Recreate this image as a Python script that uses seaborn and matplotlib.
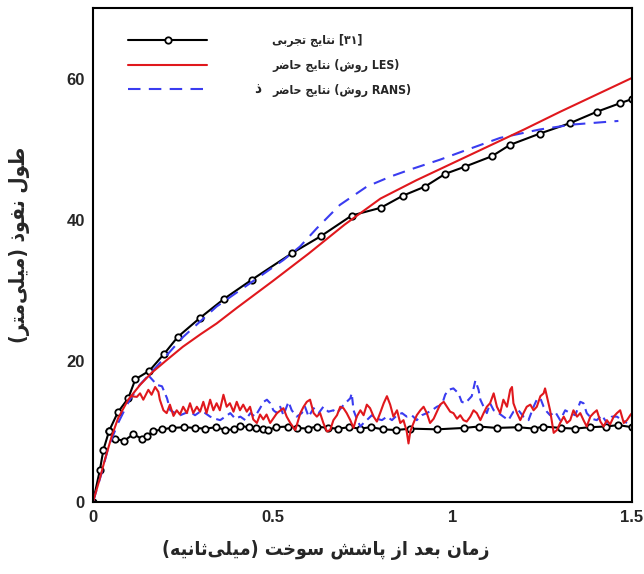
import re
import numpy as np
import pandas as pd
import matplotlib
matplotlib.use("Agg")
import matplotlib.pyplot as plt
from matplotlib.ticker import MultipleLocator, FixedLocator
from matplotlib.font_manager import FontProperties
import seaborn as sns

# ---------------- data ----------------
# Experimental (black, circles): vapour penetration (upper) and liquid length (lower)
exp_upper_t = [0.0, 0.019, 0.029, 0.045, 0.069, 0.098, 0.118, 0.157, 0.198, 0.236, 0.298,
               0.365, 0.442, 0.555, 0.635, 0.720, 0.801, 0.862, 0.924, 0.980, 1.034,
               1.110, 1.160, 1.243, 1.328, 1.402, 1.466, 1.500]
exp_upper_L = [0.0, 4.5, 7.4, 10.1, 12.7, 14.7, 17.4, 18.6, 21.0, 23.4, 26.1,
               28.8, 31.5, 35.3, 37.7, 40.6, 41.7, 43.4, 44.7, 46.5, 47.5,
               49.0, 50.6, 52.2, 53.7, 55.3, 56.5, 57.1]
exp_lower_t = [0.045, 0.061, 0.087, 0.112, 0.135, 0.149, 0.168, 0.191, 0.219, 0.254, 0.284,
               0.313, 0.343, 0.368, 0.393, 0.408, 0.433, 0.453, 0.473, 0.488, 0.508,
               0.543, 0.568, 0.598, 0.623, 0.653, 0.683, 0.713, 0.743, 0.773, 0.808,
               0.843, 0.883, 0.958, 1.033, 1.073, 1.123, 1.183, 1.228, 1.252, 1.302,
               1.342, 1.382, 1.427, 1.462, 1.500]
exp_lower_L = [10.1, 8.9, 8.7, 9.6, 9.0, 9.4, 10.0, 10.3, 10.5, 10.6, 10.5,
               10.4, 10.6, 10.2, 10.3, 10.8, 10.6, 10.5, 10.4, 10.2, 10.6,
               10.7, 10.5, 10.4, 10.7, 10.5, 10.4, 10.6, 10.4, 10.6, 10.3,
               10.2, 10.4, 10.3, 10.5, 10.7, 10.5, 10.6, 10.4, 10.7, 10.5,
               10.4, 10.6, 10.7, 10.9, 10.6]

# LES (red)
les_upper_t = [0.0, 0.02, 0.033, 0.052, 0.070, 0.098, 0.131, 0.163, 0.2, 0.25, 0.3,
               0.344, 0.4, 0.5, 0.6, 0.7, 0.8, 0.9, 1.0, 1.1, 1.2, 1.3, 1.4, 1.5]
les_upper_L = [0.0, 3.5, 6.0, 9.3, 11.9, 14.5, 16.6, 18.3, 19.9, 22.0, 23.8,
               25.3, 27.5, 31.3, 35.2, 39.3, 43.0, 45.6, 48.0, 50.4, 52.8, 55.3, 57.7, 60.1]
les_lower_t = [0.105, 0.122, 0.131, 0.140, 0.154, 0.163, 0.173, 0.182, 0.186, 0.196, 0.205,
               0.214, 0.224, 0.233, 0.242, 0.251, 0.261, 0.270, 0.279, 0.289, 0.298,
               0.307, 0.316, 0.326, 0.335, 0.344, 0.353, 0.363, 0.372, 0.381, 0.391,
               0.400, 0.409, 0.418, 0.428, 0.437, 0.446, 0.456, 0.465, 0.474, 0.483,
               0.493, 0.512, 0.530, 0.539, 0.549, 0.563, 0.577, 0.586, 0.595, 0.604,
               0.614, 0.623, 0.632, 0.641, 0.651, 0.660, 0.669, 0.679, 0.688, 0.697,
               0.706, 0.716, 0.725, 0.734, 0.744, 0.753, 0.762, 0.771, 0.781, 0.790,
               0.799, 0.809, 0.818, 0.827, 0.836, 0.846, 0.855, 0.864, 0.873, 0.878,
               0.883, 0.892, 0.901, 0.911, 0.920, 0.929, 0.938, 0.948, 0.957, 0.966,
               0.976, 0.985, 0.994, 1.003, 1.013, 1.022, 1.031, 1.040, 1.050, 1.059,
               1.068, 1.078, 1.087, 1.096, 1.105, 1.115, 1.124, 1.133, 1.142, 1.152,
               1.161, 1.166, 1.170, 1.180, 1.189, 1.198, 1.207, 1.217, 1.226, 1.235,
               1.245, 1.254, 1.258, 1.263, 1.272, 1.282, 1.291, 1.300, 1.310, 1.319,
               1.328, 1.337, 1.347, 1.356, 1.365, 1.374, 1.384, 1.393, 1.402, 1.412,
               1.421, 1.430, 1.439, 1.449, 1.458, 1.467, 1.477, 1.486, 1.495, 1.500]
les_lower_L = [15.0, 14.9, 15.4, 14.5, 15.9, 15.2, 16.3, 15.6, 14.5, 13.0, 12.6,
               13.8, 12.2, 13.0, 12.4, 13.5, 12.6, 14.0, 12.6, 13.5, 12.8,
               14.2, 12.6, 14.5, 13.0, 14.0, 13.0, 15.2, 13.5, 14.0, 12.8,
               14.2, 13.0, 13.8, 12.8, 13.5, 11.7, 11.2, 12.4, 11.7, 12.4,
               11.2, 12.6, 13.3, 12.1, 11.2, 10.2, 12.6, 13.5, 14.2, 14.5,
               12.6, 12.1, 12.6, 11.2, 10.0, 10.2, 11.6, 12.3, 13.5, 13.3,
               12.6, 11.6, 10.5, 12.1, 13.0, 12.3, 13.8, 13.3, 12.1, 11.4,
               12.6, 14.0, 15.0, 13.8, 12.1, 13.0, 11.2, 11.6, 10.0, 8.3,
               10.0, 11.2, 12.3, 13.0, 13.5, 12.6, 11.2, 11.8, 12.8, 13.8,
               14.2, 13.5, 12.8, 12.6, 11.8, 12.3, 11.6, 11.4, 12.1, 13.0,
               12.6, 11.6, 12.6, 13.5, 14.0, 15.4, 13.5, 12.6, 14.5, 13.5,
               15.9, 16.3, 14.0, 12.6, 11.6, 12.6, 13.5, 13.8, 13.0, 13.5,
               15.0, 15.4, 16.1, 15.0, 13.0, 9.8, 10.2, 11.2, 12.1, 11.2,
               11.6, 13.0, 12.1, 12.6, 11.6, 10.7, 12.1, 12.6, 13.0, 11.4,
               10.7, 11.6, 11.0, 12.1, 12.6, 13.0, 11.2, 11.6, 12.3, 12.6]

# RANS (blue dashed)
rans_upper_t = [0.0, 0.024, 0.043, 0.070, 0.10, 0.13, 0.177, 0.251, 0.344, 0.437, 0.530,
                0.576, 0.623, 0.687, 0.762, 0.827, 0.882, 0.965, 1.040, 1.133, 1.244,
                1.337, 1.462]
rans_upper_L = [0.0, 4.1, 7.8, 11.2, 14.3, 16.6, 19.2, 23.4, 27.7, 31.0, 34.3,
                36.2, 38.8, 42.1, 44.7, 46.1, 47.1, 48.5, 49.9, 51.6, 52.8,
                53.5, 54.0]
rans_lower_t = [0.155, 0.178, 0.192, 0.206, 0.215, 0.229, 0.243, 0.257, 0.270, 0.284, 0.298,
                0.312, 0.326, 0.340, 0.354, 0.368, 0.382, 0.396, 0.410, 0.424, 0.438,
                0.451, 0.465, 0.475, 0.484, 0.493, 0.502, 0.512, 0.521, 0.530, 0.544,
                0.553, 0.567, 0.581, 0.590, 0.600, 0.614, 0.628, 0.641, 0.655, 0.669,
                0.679, 0.693, 0.702, 0.716, 0.720, 0.725, 0.734, 0.744, 0.753, 0.762,
                0.776, 0.790, 0.804, 0.818, 0.832, 0.846, 0.860, 0.873, 0.887, 0.901,
                0.915, 0.929, 0.943, 0.957, 0.971, 0.980, 0.989, 1.003, 1.017, 1.026,
                1.036, 1.045, 1.054, 1.064, 1.073, 1.078, 1.087, 1.096, 1.105, 1.115,
                1.129, 1.142, 1.156, 1.170, 1.184, 1.198, 1.212, 1.226, 1.235, 1.245,
                1.254, 1.263, 1.272, 1.286, 1.300, 1.314, 1.328, 1.342, 1.356, 1.365,
                1.374, 1.388, 1.402, 1.416, 1.430, 1.444, 1.458, 1.472, 1.486]
rans_lower_L = [17.9, 16.6, 16.4, 14.7, 13.0, 12.6, 12.3, 12.6, 12.8, 12.3, 12.8,
                12.6, 12.1, 11.8, 11.6, 12.1, 12.6, 11.8, 12.1, 11.6, 12.6,
                12.1, 13.3, 14.2, 14.5, 14.0, 13.0, 12.6, 13.5, 12.3, 14.2,
                13.0, 12.1, 12.6, 13.5, 12.1, 13.3, 12.6, 13.5, 12.8, 13.0,
                12.6, 13.5, 14.0, 14.7, 15.4, 13.0, 11.8, 10.7, 11.2, 11.6,
                12.3, 11.8, 11.6, 12.1, 11.6, 12.3, 12.6, 12.1, 12.3, 11.6,
                12.3, 12.6, 13.0, 13.5, 13.8, 15.2, 15.9, 16.1, 15.4, 14.2,
                14.0, 14.5, 15.0, 17.2, 15.9, 14.5, 13.5, 12.6, 14.0, 13.0,
                12.6, 12.1, 11.6, 12.8, 13.0, 12.1, 11.6, 13.5, 14.5, 14.7,
                13.5, 12.8, 12.3, 12.8, 11.6, 13.0, 12.6, 12.3, 14.2, 14.0,
                12.6, 11.8, 11.6, 12.3, 11.2, 12.1, 12.1, 11.6, 11.2]

x_ticks = [0, 0.5, 1, 1.5]
x_tick_labels = ["0", "0.5", "1", "1.5"]
y_ticks = [0, 20, 40, 60]
y_tick_labels = ["0", "20", "40", "60"]

x_label = "زمان بعد از پاشش سوخت (میلی\u200cثانیه)"
y_label = "طول نفوذ (میلی\u200cمتر)"
legend_labels = ["نتایج تجربی [۳۱]", "نتایج حاضر (روش LES)", "نتایج حاضر (روش RANS)"]
stray_mark = "ذ"

# ---------------- Persian shaping + visual ordering ----------------
FORMS = {
    'ا': (0xFE8D, 0xFE8E), 'آ': (0xFE81, 0xFE82),
    'ب': (0xFE8F, 0xFE90, 0xFE91, 0xFE92), 'پ': (0xFB56, 0xFB57, 0xFB58, 0xFB59),
    'ت': (0xFE95, 0xFE96, 0xFE97, 0xFE98), 'ث': (0xFE99, 0xFE9A, 0xFE9B, 0xFE9C),
    'ج': (0xFE9D, 0xFE9E, 0xFE9F, 0xFEA0), 'ح': (0xFEA1, 0xFEA2, 0xFEA3, 0xFEA4),
    'خ': (0xFEA5, 0xFEA6, 0xFEA7, 0xFEA8), 'د': (0xFEA9, 0xFEAA), 'ذ': (0xFEAB, 0xFEAC),
    'ر': (0xFEAD, 0xFEAE), 'ز': (0xFEAF, 0xFEB0),
    'س': (0xFEB1, 0xFEB2, 0xFEB3, 0xFEB4), 'ش': (0xFEB5, 0xFEB6, 0xFEB7, 0xFEB8),
    'ض': (0xFEBD, 0xFEBE, 0xFEBF, 0xFEC0), 'ط': (0xFEC1, 0xFEC2, 0xFEC3, 0xFEC4),
    'ع': (0xFEC9, 0xFECA, 0xFECB, 0xFECC), 'ف': (0xFED1, 0xFED2, 0xFED3, 0xFED4),
    'ل': (0xFEDD, 0xFEDE, 0xFEDF, 0xFEE0), 'م': (0xFEE1, 0xFEE2, 0xFEE3, 0xFEE4),
    'ن': (0xFEE5, 0xFEE6, 0xFEE7, 0xFEE8), 'ه': (0xFEE9, 0xFEEA, 0xFEEB, 0xFEEC),
    'و': (0xFEED, 0xFEEE), 'ی': (0xFBFC, 0xFBFD, 0xFBFE, 0xFBFF),
}


def shape(s):
    out = []
    for i, c in enumerate(s):
        if c == '\u200c':
            continue
        if c not in FORMS:
            out.append(c)
            continue
        f = FORMS[c]
        prev = s[i - 1] if i > 0 else ''
        nxt = s[i + 1] if i + 1 < len(s) else ''
        jp = prev in FORMS and len(FORMS[prev]) == 4
        jn = len(f) == 4 and nxt in FORMS
        if jp and jn:
            g = f[3]
        elif jp:
            g = f[1]
        elif jn:
            g = f[2]
        else:
            g = f[0]
        out.append(chr(g))
    return ''.join(out)


def visual_rtl(s):
    """Right-to-left paragraph (axis titles)."""
    mirror = {'(': ')', ')': '(', '[': ']', ']': '['}
    rev = ''.join(mirror.get(c, c) for c in shape(s)[::-1])
    return re.sub(r'[A-Za-z0-9\u06F0-\u06F9.]+', lambda m: m.group(0)[::-1], rev)


AR = '[\u0621-\u064A\u067E\u0686\u0698\u06A9\u06AF\u06CC\u200c]'


def visual_ltr(s):
    """Left-to-right paragraph with embedded Persian runs (legend entries)."""
    return re.sub(AR + r'+(?:\s+' + AR + r'+)*', lambda m: shape(m.group(0))[::-1], s)


# ---------------- figure ----------------
sns.set_style("white")
plt.rcParams['font.family'] = ['Liberation Sans', 'DejaVu Sans']

fig = plt.figure(figsize=(6.44, 5.74), dpi=100)
ax = fig.add_axes([0.1444, 0.1254, 0.8370, 0.8606])

BLACK = "#000000"
RED = "#e0181d"
BLUE = "#3a3cf0"
LW = 1.5


def draw(t, L, **kw):
    n = len(ax.lines)
    df = pd.DataFrame({"t": t, "L": L})
    sns.lineplot(data=df, x="t", y="L", ax=ax, sort=False, estimator=None, **kw)
    return ax.lines[n]


mk = dict(marker="o", markersize=4.6, markerfacecolor="white",
          markeredgecolor=BLACK, markeredgewidth=1.3)
h_exp = draw(exp_upper_t, exp_upper_L, color=BLACK, linewidth=LW, **mk)
draw(exp_lower_t, exp_lower_L, color=BLACK, linewidth=LW, **mk)
h_rans = draw(rans_upper_t, rans_upper_L, color=BLUE, linewidth=LW)
h_rans.set_linestyle((0, (6, 4)))
l2 = draw(rans_lower_t, rans_lower_L, color=BLUE, linewidth=LW)
l2.set_linestyle((0, (4, 2.5)))
h_les = draw(les_upper_t, les_upper_L, color=RED, linewidth=LW)
draw(les_lower_t, les_lower_L, color=RED, linewidth=LW)

ax.set_xlim(0, 1.5)
ax.set_ylim(0, 70)
ax.xaxis.set_major_locator(FixedLocator(x_ticks))
ax.set_xticklabels(x_tick_labels)
ax.yaxis.set_major_locator(FixedLocator(y_ticks))
ax.set_yticklabels(y_tick_labels)
ax.xaxis.set_minor_locator(MultipleLocator(0.1))
ax.yaxis.set_minor_locator(MultipleLocator(5))
ax.tick_params(which="major", direction="in", length=6, width=1.5,
               labelsize=12, pad=6, top=False, right=False)
ax.tick_params(which="minor", direction="in", length=3.5, width=1.2,
               top=False, right=False)
for lab in ax.get_xticklabels() + ax.get_yticklabels():
    lab.set_fontweight("bold")
for sp in ax.spines.values():
    sp.set_visible(True)
    sp.set_linewidth(1.5)
    sp.set_color("black")

fa = dict(family=["DejaVu Sans"], weight="bold", stretch="condensed")
ax.set_xlabel("")
ax.set_ylabel("")
ax.text(0.432, -0.097, visual_rtl(x_label), transform=ax.transAxes, ha="center",
        va="center", fontsize=14, **fa)
ax.text(-0.137, 0.52, visual_rtl(y_label), transform=ax.transAxes, ha="center",
        va="center", rotation=90, fontsize=15, **fa)

leg = ax.legend([h_exp, h_les, h_rans], [visual_ltr(s) for s in legend_labels],
                loc="upper left", bbox_to_anchor=(0.065, 0.947), frameon=False,
                borderpad=0, borderaxespad=0, handlelength=6.5, handletextpad=5.3,
                labelspacing=0.95, numpoints=1,
                prop=FontProperties(family="DejaVu Sans", weight="bold",
                                    stretch="condensed", size=8.8))
ax.text(0.306, 0.836, stray_mark, transform=ax.transAxes, ha="center",
        va="center", fontsize=11, **fa)

fig.savefig("out.png", dpi=100)
